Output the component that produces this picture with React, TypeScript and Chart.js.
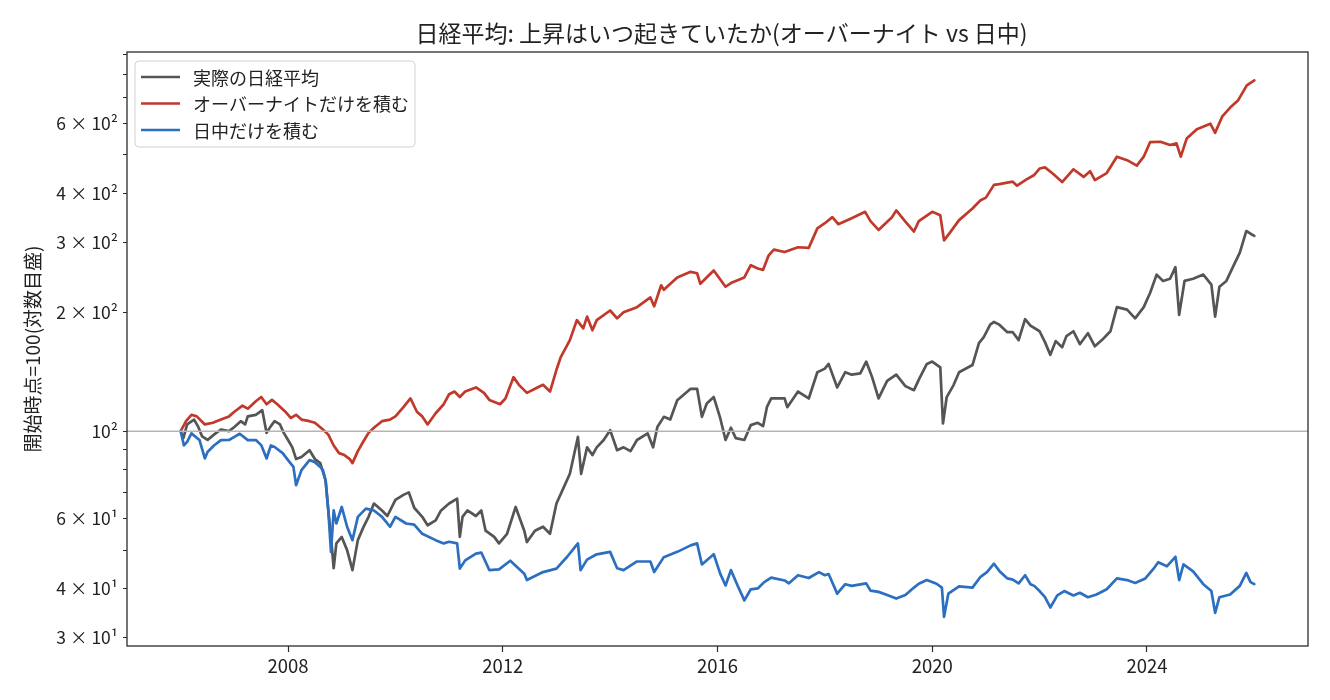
import React, { useEffect, useRef } from "react";
import { Chart, registerables } from "chart.js";
Chart.register(...registerables);

const FONT = '"Noto Sans CJK JP", "Noto Sans", sans-serif';

const titleText = "日経平均: 上昇はいつ起きていたか(オーバーナイト vs 日中)";
const yAxisTitle = "開始時点=100(対数目盛)";
const legendLabels = ["実際の日経平均", "オーバーナイトだけを積む", "日中だけを積む"];
const seriesColors = ["#555555", "#c0392b", "#2c6fc1"];
const baseValue = 100;

const xTickValues = [2008, 2012, 2016, 2020, 2024];
const yTickValues = [30, 40, 50, 60, 70, 80, 90, 100, 200, 300, 400, 500, 600, 700, 800, 900];
const yTickLabels = ["3 × 10¹", "4 × 10¹", "", "6 × 10¹", "", "", "", "10²", "2 × 10²", "3 × 10²", "4 × 10²", "", "6 × 10²", "", "", ""];

// 実際の日経平均
const nikkeiYears = [
  2006.0, 2006.05, 2006.12, 2006.25, 2006.32, 2006.4, 2006.5, 2006.62, 2006.75, 2006.9,
  2007.0, 2007.12, 2007.2, 2007.25, 2007.4, 2007.52, 2007.6, 2007.68, 2007.75, 2007.85, 2007.92,
  2008.0, 2008.08, 2008.15, 2008.25, 2008.4, 2008.5, 2008.6, 2008.7, 2008.75, 2008.8, 2008.85, 2008.9,
  2009.0, 2009.1, 2009.2, 2009.3, 2009.4, 2009.5, 2009.6, 2009.75, 2009.85,
  2010.0, 2010.15, 2010.25, 2010.35, 2010.5, 2010.6, 2010.75, 2010.85,
  2011.0, 2011.15, 2011.2, 2011.25, 2011.34, 2011.5, 2011.6, 2011.68, 2011.84, 2011.93,
  2012.08, 2012.24, 2012.4, 2012.45, 2012.6, 2012.75, 2012.88,
  2013.0, 2013.14, 2013.25, 2013.4, 2013.46, 2013.57, 2013.67, 2013.75, 2013.88,
  2014.0, 2014.13, 2014.25, 2014.38, 2014.5, 2014.7, 2014.8, 2014.88,
  2015.0, 2015.12, 2015.25, 2015.5, 2015.62, 2015.71, 2015.8, 2015.93,
  2016.05, 2016.15, 2016.25, 2016.34, 2016.5, 2016.62, 2016.75, 2016.85, 2016.92,
  2017.0, 2017.25, 2017.3, 2017.5, 2017.7, 2017.86,
  2018.0, 2018.07, 2018.23, 2018.38, 2018.5, 2018.66, 2018.77, 2018.88,
  2019.0, 2019.16, 2019.33, 2019.5, 2019.66, 2019.75, 2019.9,
  2020.0, 2020.15, 2020.2, 2020.27, 2020.4, 2020.5, 2020.75, 2020.87, 2020.96,
  2021.08, 2021.15, 2021.25, 2021.4, 2021.5, 2021.61, 2021.73, 2021.83,
  2022.0, 2022.1, 2022.2, 2022.3, 2022.42, 2022.5, 2022.63, 2022.75, 2022.9,
  2023.03, 2023.16, 2023.32, 2023.44, 2023.63, 2023.78, 2023.94,
  2024.06, 2024.18, 2024.3, 2024.43, 2024.53, 2024.6, 2024.7, 2024.86,
  2025.05, 2025.2, 2025.27, 2025.35, 2025.48, 2025.6, 2025.73, 2025.85, 2025.93, 2026.0,
];
const nikkeiValues = [
  100, 96, 104, 107, 103, 97, 95, 98, 101, 100,
  102.5, 106, 104, 109, 110, 113, 99, 103, 106, 104, 99,
  95, 91, 85, 86, 89.5, 85, 83, 75, 63, 54, 45, 52,
  54, 50, 44.5, 53, 57, 60.7, 65.6, 63, 61,
  67, 69, 70, 64, 60.7, 57.8, 59.5, 63,
  65.6, 67.5, 54, 60.7, 63, 61, 63, 56, 54, 52,
  55, 64.3, 56, 52.4, 56, 57.3, 55,
  65.6, 72.3, 78, 96.7, 78, 91, 87, 91, 95,
  100.6, 89.5, 91, 89, 95, 98.7, 91, 102.5,
  108.7, 107, 119.8, 128, 128, 108.7, 117.5, 122,
  108, 95, 102, 96, 95, 103.6, 105, 103, 115,
  121, 121, 115, 126, 121, 141,
  144, 148, 129, 141, 139, 140, 150, 137,
  121, 134, 139, 130, 127, 135, 148,
  150, 145, 104.6, 122, 131, 141, 147, 167, 173,
  186, 189, 186, 178, 178, 170, 192, 185,
  179, 168, 156, 169, 163, 174, 179, 166, 177,
  164, 170, 179, 206, 203, 193, 206,
  224, 249, 240, 243, 260, 197, 240, 243,
  249, 235, 195, 232, 240, 260, 283, 321, 316, 312,
];

// オーバーナイトだけを積む
const overnightYears = [
  2006.0, 2006.1, 2006.2, 2006.3, 2006.45, 2006.6, 2006.75, 2006.9,
  2007.0, 2007.15, 2007.25, 2007.4, 2007.5, 2007.6, 2007.7, 2007.8, 2007.95,
  2008.05, 2008.15, 2008.25, 2008.4, 2008.5, 2008.65, 2008.75, 2008.85, 2008.95,
  2009.05, 2009.15, 2009.2, 2009.3, 2009.4, 2009.5, 2009.6, 2009.75, 2009.9,
  2010.0, 2010.15, 2010.28, 2010.4, 2010.5, 2010.6, 2010.75, 2010.9,
  2011.0, 2011.1, 2011.2, 2011.3, 2011.5, 2011.65, 2011.75, 2011.95,
  2012.05, 2012.2, 2012.3, 2012.45, 2012.6, 2012.75, 2012.88,
  2013.0, 2013.08, 2013.25, 2013.38, 2013.5, 2013.57, 2013.67, 2013.75,
  2014.0, 2014.13, 2014.25, 2014.5, 2014.75, 2014.82, 2014.95,
  2015.0, 2015.25, 2015.5, 2015.62, 2015.68, 2015.93,
  2016.15, 2016.25, 2016.5, 2016.62, 2016.75, 2016.85, 2016.95,
  2017.05, 2017.25, 2017.5, 2017.7, 2017.86,
  2018.0, 2018.14, 2018.25, 2018.5, 2018.75, 2018.85,
  2019.0, 2019.25, 2019.33, 2019.5, 2019.66, 2019.75,
  2020.0, 2020.15, 2020.22, 2020.33, 2020.5, 2020.75, 2020.9,
  2021.0, 2021.15, 2021.25, 2021.5, 2021.58, 2021.75, 2021.9,
  2022.0, 2022.1, 2022.25, 2022.42, 2022.63, 2022.82, 2022.94,
  2023.03, 2023.25, 2023.44, 2023.63, 2023.81, 2023.94,
  2024.06, 2024.25, 2024.43, 2024.55, 2024.63, 2024.74, 2024.93,
  2025.18, 2025.27, 2025.4, 2025.55, 2025.7, 2025.86, 2026.0,
];
const overnightValues = [
  100, 106, 110, 109, 104, 105, 107, 109,
  112, 116, 114, 119, 122, 117, 120, 117, 112,
  108, 110, 107, 106, 105, 101, 98, 92, 88,
  87, 85, 83, 89, 94, 99, 102, 106, 107,
  109, 115, 121, 112, 109, 104, 111, 117,
  124, 126, 122, 126, 129, 125, 120, 117,
  121, 137, 131, 125, 128, 131, 126,
  143, 154, 170, 191, 182, 195, 180, 191,
  202, 193, 200, 206, 218, 207, 234,
  228, 245, 253, 251, 236, 255,
  232, 237, 245, 263, 258, 256, 278,
  288, 284, 292, 291, 326,
  336, 348, 334, 346, 359, 340,
  323, 348, 362, 339, 320, 340,
  359, 352, 304, 318, 342, 366, 384,
  390, 420, 422, 428, 418, 433, 445,
  462, 465, 448, 427, 460, 440, 455,
  432, 450, 495, 485, 470, 495,
  539, 540, 530, 535, 495, 550, 581,
  600, 569, 625, 659, 688, 750, 772,
];

// 日中だけを積む
const intradayYears = [
  2006.0, 2006.06, 2006.12, 2006.2, 2006.35, 2006.45, 2006.5, 2006.62, 2006.75, 2006.9,
  2007.0, 2007.1, 2007.25, 2007.4, 2007.5, 2007.6, 2007.68, 2007.75, 2007.9,
  2008.0, 2008.1, 2008.15, 2008.25, 2008.4, 2008.5, 2008.6, 2008.65, 2008.7, 2008.75, 2008.8, 2008.85, 2008.9,
  2009.0, 2009.1, 2009.2, 2009.3, 2009.45, 2009.6, 2009.75, 2009.9,
  2010.0, 2010.2, 2010.35, 2010.5, 2010.75, 2010.9,
  2011.0, 2011.15, 2011.2, 2011.3, 2011.5, 2011.6, 2011.75, 2011.93,
  2012.14, 2012.4, 2012.45, 2012.75,
  2013.0, 2013.2, 2013.4, 2013.45, 2013.57, 2013.75,
  2014.0, 2014.13, 2014.25, 2014.5, 2014.75, 2014.82,
  2015.0, 2015.25, 2015.5, 2015.62, 2015.71, 2015.93,
  2016.05, 2016.15, 2016.25, 2016.38, 2016.5, 2016.62, 2016.75, 2016.87,
  2017.0, 2017.25, 2017.33, 2017.5, 2017.7, 2017.89,
  2018.0, 2018.07, 2018.23, 2018.38, 2018.5, 2018.77, 2018.85,
  2019.0, 2019.16, 2019.33, 2019.5, 2019.66, 2019.75, 2019.9,
  2020.08, 2020.18, 2020.22, 2020.3, 2020.5, 2020.75, 2020.9,
  2021.02, 2021.15, 2021.25, 2021.4, 2021.5, 2021.61, 2021.73, 2021.83, 2021.9,
  2022.0, 2022.1, 2022.2, 2022.33, 2022.46, 2022.63, 2022.75, 2022.9,
  2023.06, 2023.25, 2023.44, 2023.63, 2023.78, 2023.97,
  2024.12, 2024.21, 2024.37, 2024.53, 2024.6, 2024.68, 2024.86,
  2025.05, 2025.2, 2025.27, 2025.35, 2025.55, 2025.73, 2025.85, 2025.93, 2026.0,
];
const intradayValues = [
  100, 92, 94, 98.7, 95, 85.3, 88.6, 92, 94.9, 95,
  96.7, 98.5, 94.9, 95, 92.2, 85.3, 92, 91.2, 88,
  84.5, 81.2, 73, 79.7, 84.5, 83.5, 81.2, 79.7, 75, 63, 49.5, 63, 58.4,
  64.3, 57.3, 53, 60.7, 63.7, 63, 60.7, 57.3,
  60.7, 58.4, 58, 55, 53, 52,
  52.5, 52, 44.9, 47.1, 49, 49.3, 44.5, 44.7,
  47, 43.6, 42, 44,
  44.9, 48.1, 52, 44.5, 47.3, 48.8,
  49.5, 45, 44.5, 46.8, 46.8, 44,
  48, 49.5, 51.4, 52, 46, 48.8,
  43.6, 40.7, 44.5, 40.5, 37.3, 39.8, 40, 41.5,
  42.6, 41.9, 41.2, 43.2, 42.5, 44,
  43.2, 43.5, 38.8, 41, 40.6, 41.2, 39.5,
  39.2, 38.5, 37.7, 38.5, 40.2, 41.1, 42,
  41.1, 40.2, 33.9, 38.8, 40.5, 40.2, 42.8,
  44, 46.2, 44.3, 42.4, 42.1, 41.2, 43.2, 41, 40.6,
  39.4, 38, 35.8, 38.4, 39.4, 38.4, 39, 38,
  38.6, 39.8, 42.4, 42, 41.3, 42.4,
  44.8, 46.6, 45.5, 48.1, 42, 46, 44.2,
  41, 39.4, 34.7, 38, 38.6, 40.6, 43.8, 41.5, 41,
];

const zip = (xs: number[], ys: number[]) => xs.map((x, i) => ({ x, y: ys[i] }));

const decorPlugin = {
  id: "decor",
  afterDatasetsDraw(chart: any) {
    const { ctx, chartArea } = chart;
    const y = chart.scales.y.getPixelForValue(baseValue);
    ctx.save();
    ctx.strokeStyle = "#b5b5b5";
    ctx.lineWidth = 1.5;
    ctx.beginPath();
    ctx.moveTo(chartArea.left, y);
    ctx.lineTo(chartArea.right, y);
    ctx.stroke();
    ctx.restore();
  },
  afterDraw(chart: any) {
    const { ctx, chartArea } = chart;
    ctx.save();
    // frame
    ctx.strokeStyle = "#2b2b2b";
    ctx.lineWidth = 1.3;
    ctx.strokeRect(chartArea.left, chartArea.top, chartArea.right - chartArea.left, chartArea.bottom - chartArea.top);
    // title
    ctx.fillStyle = "#222";
    ctx.font = `23px ${FONT}`;
    ctx.textAlign = "center";
    ctx.textBaseline = "middle";
    ctx.fillText(titleText, (chartArea.left + chartArea.right) / 2 + 4, 33);
    // y axis title
    ctx.save();
    ctx.translate(33, (chartArea.top + chartArea.bottom) / 2);
    ctx.rotate(-Math.PI / 2);
    ctx.font = `19px ${FONT}`;
    ctx.fillText(yAxisTitle, 0, 0);
    ctx.restore();
    // legend
    const bx = chartArea.left + 8;
    const by = chartArea.top + 9;
    const bw = 280;
    const bh = 86;
    ctx.beginPath();
    ctx.roundRect(bx, by, bw, bh, 4);
    ctx.fillStyle = "rgba(255,255,255,0.8)";
    ctx.fill();
    ctx.strokeStyle = "#d0d0d0";
    ctx.lineWidth = 1;
    ctx.stroke();
    ctx.font = `18px ${FONT}`;
    ctx.textAlign = "left";
    legendLabels.forEach((lab, i) => {
      const ly = by + 16 + i * 26.5;
      ctx.strokeStyle = seriesColors[i];
      ctx.lineWidth = 2.7;
      ctx.beginPath();
      ctx.moveTo(bx + 6, ly);
      ctx.lineTo(bx + 45, ly);
      ctx.stroke();
      ctx.fillStyle = "#222";
      ctx.fillText(lab, bx + 58, ly + 1);
    });
    ctx.restore();
  },
};

export default function App() {
  const ref = useRef<HTMLCanvasElement | null>(null);
  useEffect(() => {
    if (!ref.current) return;
    const series = [
      { label: legendLabels[0], data: zip(nikkeiYears, nikkeiValues), color: seriesColors[0], order: 3 },
      { label: legendLabels[1], data: zip(overnightYears, overnightValues), color: seriesColors[1], order: 2 },
      { label: legendLabels[2], data: zip(intradayYears, intradayValues), color: seriesColors[2], order: 1 },
    ];
    const chart = new Chart(ref.current, {
      type: "line",
      data: {
        datasets: series.map((s) => ({
          label: s.label,
          data: s.data,
          borderColor: s.color,
          backgroundColor: s.color,
          borderWidth: 2.7,
          pointRadius: 0,
          tension: 0,
          fill: false,
          order: s.order,
          borderJoinStyle: "round",
          borderCapStyle: "round",
        })),
      },
      options: {
        animation: false,
        responsive: true,
        maintainAspectRatio: false,
        layout: { padding: { top: 52, right: 22, left: 0, bottom: 0 } },
        plugins: { legend: { display: false }, title: { display: false }, tooltip: { enabled: false } },
        scales: {
          x: {
            type: "linear",
            min: 2005.0,
            max: 2027.0,
            afterBuildTicks: (s: any) => {
              s.ticks = xTickValues.map((v) => ({ value: v }));
            },
            afterFit: (s: any) => {
              s.height = 54;
            },
            grid: { drawOnChartArea: false, drawTicks: true, tickLength: 6, tickColor: "#2b2b2b", tickWidth: 1.2 },
            border: { display: false },
            ticks: {
              autoSkip: false,
              maxRotation: 0,
              padding: 3,
              color: "#222",
              font: { family: FONT, size: 18.5 },
              callback: (v: any) => String(v),
            },
          },
          y: {
            type: "logarithmic",
            min: 28.6,
            max: 911,
            afterBuildTicks: (s: any) => {
              s.ticks = yTickValues.map((v) => ({ value: v }));
            },
            afterFit: (s: any) => {
              s.width = 127;
            },
            grid: { drawOnChartArea: false, drawTicks: true, tickLength: 4, tickColor: "#2b2b2b", tickWidth: 1 },
            border: { display: false },
            ticks: {
              autoSkip: false,
              padding: 5,
              color: "#222",
              font: { family: FONT, size: 17.5 },
              callback: (v: any) => {
                const i = yTickValues.indexOf(Number(v));
                return i >= 0 ? yTickLabels[i] : "";
              },
            },
          },
        },
      },
      plugins: [decorPlugin],
    } as any);
    return () => chart.destroy();
  }, []);
  return (
    <div style={{ position: "fixed", left: 0, top: 0, width: 1330, height: 700, background: "#fff" }}>
      <canvas ref={ref} />
    </div>
  );
}
